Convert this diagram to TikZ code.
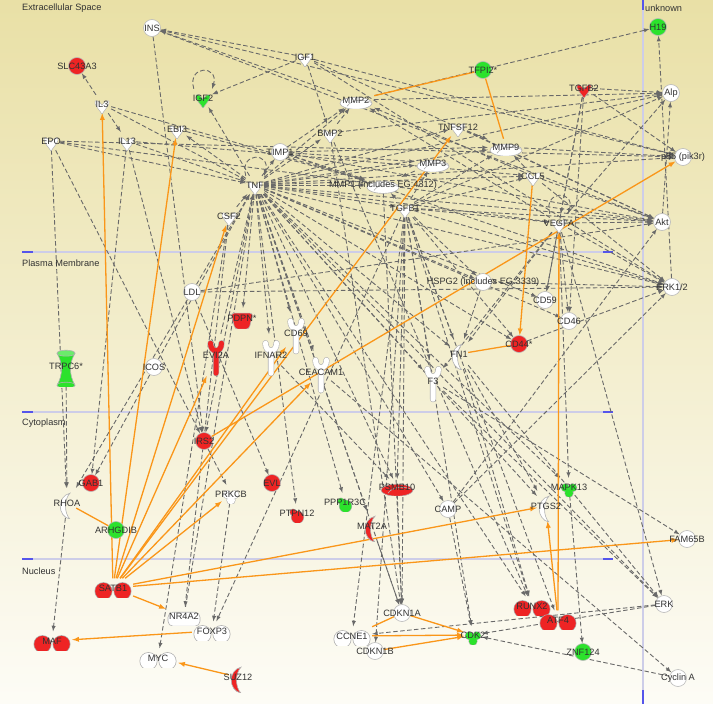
\documentclass[tikz,border=0pt]{standalone}
\usepackage{fontspec}
\setmainfont{Liberation Sans}
\definecolor{bgtop}{RGB}{233,224,166}
\definecolor{bgbot}{RGB}{253,252,246}
\definecolor{molred}{RGB}{238,36,36}
\definecolor{molgreen}{RGB}{44,226,44}
\definecolor{edgegray}{RGB}{105,105,105}
\definecolor{edgeorange}{RGB}{250,150,25}
\definecolor{cmpline}{RGB}{205,205,232}
\definecolor{cmptick}{RGB}{85,85,235}
\definecolor{txtgray}{RGB}{50,50,50}
\pgfdeclarelayer{back}
\pgfdeclarelayer{edges}
\pgfsetlayers{back,edges,main}
\newcommand{\mname}[1]{\makebox[0pt]{#1}}
\begin{document}
\begin{tikzpicture}[x=1pt,y=-1pt,>=latex,
  mol/.style={inner sep=0pt,text=txtgray,font=\fontsize{9.2}{10}\selectfont},
  circmol/.style={mol,circle,minimum size=17pt,fill=#1,draw=gray!55,line width=0.6pt},
  cytmol/.style={mol,minimum width=18pt,minimum height=18pt,
    path picture={\begin{scope}[shift={(path picture bounding box.center)}]
      \filldraw[fill=#1,draw=gray!60,line width=0.5pt] (0,7) .. controls (-3,2) and (-8,-2) .. (-7,-6)
        .. controls (-5,-7.5) and (-2,-5) .. (0,-2) .. controls (2,-5) and (5,-7.5) .. (7,-6)
        .. controls (8,-2) and (3,2) .. (0,7) -- cycle;
    \end{scope}}},
  pepmol/.style={mol,minimum width=36pt,minimum height=16pt,
    path picture={\begin{scope}[shift={(path picture bounding box.center)}]
      \filldraw[fill=#1,draw=gray!60,line width=0.6pt] (0,0) ellipse [x radius=16,y radius=6];
      \draw[gray!60,line width=0.6pt] (-9,3) .. controls (-4,-4) and (6,-4) .. (15,-1);
    \end{scope}}},
  trmol/.style={mol,minimum width=40pt,minimum height=19pt,
    path picture={\begin{scope}[shift={(path picture bounding box.center)}]
      \fill[gray!65] (-9.5,0) circle (9) (9.5,0) circle (9);
      \fill[#1] (-9.5,0) circle (8.3) (9.5,0) circle (8.3);
    \end{scope}}},
  enzmol/.style={mol,minimum width=18pt,minimum height=30pt,
    path picture={\begin{scope}[shift={(path picture bounding box.center)}]
      \filldraw[fill=#1,draw=gray!60,line width=0.6pt] (3,-13) .. controls (-10,-10) and (-10,10) .. (3,13)
        .. controls (-3,7) and (-3,-7) .. (3,-13) -- cycle;
    \end{scope}}},
  recmol/.style={mol,minimum width=20pt,minimum height=42pt,
    path picture={\begin{scope}[shift={(path picture bounding box.center)}]
      \draw[gray!60,line width=6.2pt,line cap=round] (-5.5,-15) .. controls (-5.5,-5) and (5.5,-5) .. (5.5,-15) (0,-7.5) -- (0,15);
      \draw[#1,line width=5pt,line cap=round] (-5.5,-15) .. controls (-5.5,-5) and (5.5,-5) .. (5.5,-15) (0,-7.5) -- (0,15);
    \end{scope}}},
  kinmol/.style={mol,minimum width=18pt,minimum height=18pt,
    path picture={\begin{scope}[shift={(path picture bounding box.center)}]
      \fill[gray!60] (-3.8,-2.5) circle (4.4) (3.8,-2.5) circle (4.4) (0,3) circle (4.6);
      \fill[#1] (-3.8,-2.5) circle (3.8) (3.8,-2.5) circle (3.8) (0,3) circle (4);
    \end{scope}}},
  phomol/.style={mol,minimum width=18pt,minimum height=18pt,
    path picture={\begin{scope}[shift={(path picture bounding box.center)}]
      \fill[gray!60] (0.5,1) circle (6.6) (-4,-4) circle (3.6);
      \fill[#1] (0.5,1) circle (6) (-4,-4) circle (3);
    \end{scope}}},
  tpmol/.style={mol,minimum width=26pt,minimum height=20pt,
    path picture={\begin{scope}[shift={(path picture bounding box.center)}]
      \filldraw[fill=#1,draw=gray!60,line width=0.6pt,rounded corners=3pt] (-11,-8) -- (11,-8) -- (7,8) -- (-7,8) -- cycle;
    \end{scope}}},
  chanmol/.style={mol,minimum width=22pt,minimum height=40pt,
    path picture={\begin{scope}[shift={(path picture bounding box.center)}]
      \filldraw[fill=#1,draw=gray!60,line width=0.6pt] (-9,-16) .. controls (-3,-6) and (-3,6) .. (-9,16) -- (9,16)
        .. controls (3,6) and (3,-6) .. (9,-16) -- cycle;
      \filldraw[fill=#1!70!white,draw=gray!60,line width=0.6pt] (0,-16) ellipse [x radius=9,y radius=3];
      \filldraw[fill=#1,draw=gray!60,line width=0.6pt] (0,16) ellipse [x radius=9,y radius=3];
    \end{scope}}},
  nrmol/.style={mol,minimum width=36pt,minimum height=18pt,
    path picture={\begin{scope}[shift={(path picture bounding box.center)}]
      \filldraw[fill=#1,draw=gray!60,line width=0.6pt,rounded corners=5pt] (-16,-7) rectangle (16,7);
    \end{scope}}},
  cmplabel/.style={anchor=west,inner sep=0pt,text=txtgray,font=\fontsize{9.2}{10}\selectfont},
  glink/.style={edgegray,line width=0.9pt,dash pattern=on 4.5pt off 2.5pt,->},
  olink/.style={edgeorange,line width=1.3pt,->},
  oline/.style={edgeorange,line width=1.3pt}]
\useasboundingbox (0,0) rectangle (713,704);

% compartments
\begin{pgfonlayer}{back}
\shade[top color=bgtop,bottom color=bgbot] (0,0) rectangle (713,704);
\foreach \y in {252,412,559}{
  \draw[cmpline,line width=1.4pt] (22,\y) -- (613,\y);
  \draw[cmptick,line width=1.6pt] (22,\y) -- (33,\y) (603,\y) -- (613,\y);
}
\draw[cmpline,line width=1.2pt] (643,0) -- (643,704);
\draw[cmptick,line width=1.6pt] (643,0) -- (643,10) (643,690) -- (643,704);
\end{pgfonlayer}
\node[cmplabel] (extraLbl) at (22,8) {Extracellular Space};
\node[cmplabel] (pmLbl) at (22,263) {Plasma Membrane};
\node[cmplabel] (cytoLbl) at (22,423) {Cytoplasm};
\node[cmplabel] (nucLbl) at (22,571) {Nucleus};
\node[cmplabel] (unkLbl) at (645,8) {unknown};

% extracellular space
\node[circmol=white] (INS) at (152,28) {\mname{INS}};
\node[circmol=molred] (SLC43A3) at (77,66) {\mname{SLC43A3}};
\node[cytmol=white] (IGF1) at (305,57) {\mname{IGF1}};
\node[cytmol=molgreen] (IGF2) at (203,98) {\mname{IGF2}};
\node[cytmol=white] (IL3) at (102,104) {\mname{IL3}};
\node[cytmol=white] (EBI3) at (177,129) {\mname{EBI3}};
\node[cytmol=white] (EPO) at (51,141) {\mname{EPO}};
\node[cytmol=white] (IL13) at (127,141) {\mname{IL13}};
\node[cytmol=white] (BMP2) at (330,133) {\mname{BMP2}};
\node[circmol=white] (TIMP1) at (280,152) {\mname{TIMP1}};
\node[pepmol=white] (MMP2) at (356,100) {\mname{MMP2}};
\node[cytmol=white] (TNF) at (255,185) {\mname{TNF}};
\node[cytmol=white] (CSF2) at (229,216) {\mname{CSF2}};
\node[pepmol=white] (MMP1) at (383,185) {\mname{MMP1 (includes EG:4312)}};
\node[pepmol=white] (MMP3) at (433,163) {\mname{MMP3}};
\node[cytmol=white] (TNFSF12) at (458,127) {\mname{TNFSF12}};
\node[pepmol=white] (MMP9) at (506,147) {\mname{MMP9}};
\node[circmol=molgreen] (TFPI2) at (483,70) {\mname{TFPI2*}};
\node[cytmol=molred] (TGFB2) at (584,88) {\mname{TGFB2}};
\node[circmol=molgreen] (H19) at (658,27) {\mname{H19}};
\node[circmol=white] (Alp) at (671,93) {\mname{Alp}};
\node[circmol=white] (p85) at (683,157) {\mname{p85 (pik3r)}};
\node[cytmol=white] (CCL5) at (533,176) {\mname{CCL5}};
\node[cytmol=white] (TGFB1) at (405,208) {\mname{TGFB1}};
\node[cytmol=white] (VEGFA) at (559,223) {\mname{VEGFA}};
\node[circmol=white] (Akt) at (662,222) {\mname{Akt}};

% plasma membrane
\node[circmol=white] (LDL) at (192,292) {\mname{LDL}};
\node[circmol=white] (HSPG2) at (483,282) {\mname{HSPG2 (includes EG:3339)}};
\node[circmol=white] (ERK12) at (672,287) {\mname{ERK1/2}};
\node[circmol=white] (CD59) at (545,300) {\mname{CD59}};
\node[circmol=white] (CD46) at (569,321) {\mname{CD46}};
\node[circmol=molred] (CD44) at (519,344) {\mname{CD44*}};
\node[tpmol=molred] (PDPN) at (242,318) {\mname{PDPN*}};
\node[recmol=molred] (EVI2A) at (216,355) {\mname{EVI2A}};
\node[recmol=white] (CD69) at (296,333) {\mname{CD69}};
\node[recmol=white] (IFNAR2) at (271,355) {\mname{IFNAR2}};
\node[recmol=white] (CEACAM1) at (321,372) {\mname{CEACAM1}};
\node[chanmol=molgreen] (TRPC6) at (66,366) {\mname{TRPC6*}};
\node[circmol=white] (ICOS) at (154,367) {\mname{ICOS}};
\node[enzmol=white] (FN1) at (459,354) {\mname{FN1}};
\node[recmol=white] (F3) at (433,381) {\mname{F3}};

% cytoplasm
\node[circmol=molred] (IRS2) at (204,441) {\mname{IRS2}};
\node[circmol=molred] (GAB1) at (91,483) {\mname{GAB1}};
\node[enzmol=white] (RHOA) at (67,503) {\mname{RHOA}};
\node[circmol=molgreen] (ARHGDIB) at (116,530) {\mname{ARHGDIB}};
\node[kinmol=white] (PRKCB) at (231,494) {\mname{PRKCB}};
\node[circmol=molred] (EVL) at (272,483) {\mname{EVL}};
\node[phomol=molred] (PTPN12) at (297,513) {\mname{PTPN12}};
\node[phomol=molgreen] (PPP1R3C) at (345,502) {\mname{PPP1R3C}};
\node[pepmol=molred] (PSMB10) at (397,487) {\mname{PSMB10}};
\node[enzmol=molred] (MAT2A) at (372,526) {\mname{MAT2A}};
\node[circmol=white] (CAMP) at (448,509) {\mname{CAMP}};
\node[enzmol=white] (PTGS2) at (546,506) {\mname{PTGS2}};
\node[kinmol=molgreen] (MAPK13) at (569,487) {\mname{MAPK13}};
\node[circmol=white] (FAM65B) at (687,539) {\mname{FAM65B}};

% nucleus
\node[trmol=molred] (SATB1) at (113,588) {\mname{SATB1}};
\node[nrmol=white] (NR4A2) at (184,616) {\mname{NR4A2}};
\node[trmol=white] (FOXP3) at (212,631) {\mname{FOXP3}};
\node[trmol=molred] (MAF) at (52,641) {\mname{MAF}};
\node[trmol=white] (MYC) at (158,658) {\mname{MYC}};
\node[enzmol=molred] (SUZ12) at (238,677) {\mname{SUZ12}};
\node[circmol=white] (CDKN1A) at (402,613) {\mname{CDKN1A}};
\node[trmol=white] (CCNE1) at (352,636) {\mname{CCNE1}};
\node[circmol=white] (CDKN1B) at (375,651) {\mname{CDKN1B}};
\node[kinmol=molgreen] (CDK2) at (473,635) {\mname{CDK2}};
\node[trmol=molred] (RUNX2) at (532,606) {\mname{RUNX2}};
\node[trmol=molred] (ATF4) at (558,620) {\mname{ATF4}};
\node[circmol=white] (ERK) at (664,604) {\mname{ERK}};
\node[circmol=molgreen] (ZNF124) at (583,652) {\mname{ZNF124}};
\node[circmol=white] (CyclinA) at (678,678) {\mname{Cyclin A}};

\begin{pgfonlayer}{edges}
% indirect relations
\foreach \src/\dst in {IGF1/INS, MMP2/INS, INS/IRS2, INS/Akt, INS/p85, IGF1/IGF2, TNF/IGF2,
  IGF1/BMP2, IGF1/Akt, IGF1/ERK12, IGF1/p85, IL3/SLC43A3, IL3/IL13, IL3/TNF, IL3/MMP1,
  EPO/p85, EPO/Akt, EPO/RHOA, EPO/IRS2, EPO/TNF, IL13/TNF, IL13/GAB1, IL13/IRS2, IL13/CCL5,
  TNF/EBI3, EBI3/MMP1,
  TNF/TIMP1, TNF/BMP2, TNF/MMP2, TNF/TNFSF12, TNF/MMP3, TNF/MMP1, TNF/MMP9, TNF/CCL5,
  TNF/TGFB1, TNF/VEGFA, TNF/Akt, TNF/ERK12, TNF/p85, TNF/Alp, TNF/HSPG2, TNF/CD59, TNF/CD46,
  TNF/CD44, TNF/FN1, TNF/F3, TNF/PDPN, TNF/IFNAR2, TNF/CD69, TNF/CEACAM1, TNF/IRS2,
  TNF/PTPN12, TNF/PPP1R3C, TNF/PSMB10, TNF/MAT2A, TNF/CAMP, TNF/PTGS2, TNF/RUNX2,
  TNF/CDKN1A, TNF/MAPK13, TNF/ERK, CSF2/TNF, LDL/TNF, EVI2A/TNF, NR4A2/TNF, ICOS/TNF,
  TIMP1/MMP9, TIMP1/MMP3, TIMP1/MMP1, TIMP1/MMP2, TIMP1/Akt, TIMP1/ERK12,
  BMP2/MMP2, BMP2/Alp, BMP2/RUNX2, BMP2/CDKN1A, MMP2/H19, CCL5/MMP2, MMP2/Alp,
  TNFSF12/MMP9, TNFSF12/Akt, CCL5/MMP9, MMP9/p85, TGFB1/MMP9, MMP3/MMP1, TGFB1/MMP3,
  TGFB1/MMP1, TGFB1/CCL5, CCL5/Akt, CCL5/ERK12,
  TGFB1/VEGFA, TGFB1/Akt, TGFB1/ERK12, TGFB1/Alp, TGFB1/FN1, TGFB1/F3, TGFB1/CD44,
  TGFB1/PSMB10, TGFB1/CDKN1A, TGFB1/CDKN1B, TGFB1/CCNE1, TGFB1/CDK2, TGFB1/RUNX2,
  TGFB1/FOXP3, TGFB1/HSPG2, TGFB1/ATF4, MMP1/CDKN1A, PSMB10/CDKN1A,
  TGFB2/Alp, TGFB2/VEGFA, TGFB2/CD46, TGFB2/CD59, TGFB2/p85,
  VEGFA/Akt, VEGFA/ERK12, VEGFA/CD59, VEGFA/CD46, VEGFA/Alp, VEGFA/MAPK13, VEGFA/ERK,
  VEGFA/FN1, VEGFA/F3, VEGFA/MMP2, Akt/Alp, ERK12/H19,
  LDL/Akt, LDL/ERK12, LDL/RHOA, LDL/EVL, HSPG2/FN1, HSPG2/ERK12,
  CD44/ERK12, CAMP/ERK12, CAMP/Akt, CAMP/CDK2,
  FN1/PTGS2, FN1/RUNX2, FN1/ERK, F3/ERK, F3/FAM65B,
  ICOS/GAB1, TRPC6/RHOA, RHOA/MAF, IRS2/PRKCB, CSF2/NR4A2, CSF2/MYC, PRKCB/FOXP3,
  IFNAR2/PSMB10, CEACAM1/CyclinA, ERK/CCNE1, ERK/CDK2, CyclinA/CDK2, MAPK13/ZNF124,
  MAT2A/CDKN1A}
  \draw[glink] (\src) -- (\dst);
\draw[glink] (IGF2.north west) .. controls +(-7,-24) and +(7,-24) .. (IGF2.north east);
\draw[glink] (TNF.north west) .. controls +(-7,-24) and +(7,-24) .. (TNF.north east);
\draw[glink] (VEGFA.north west) .. controls +(-7,-24) and +(7,-24) .. (VEGFA.north east);
% direct relations
\foreach \src/\dst in {SATB1/IL3, SATB1/EBI3, SATB1/CSF2, SATB1/EVI2A, SATB1/CD69,
  SATB1/CEACAM1, SATB1/TNFSF12, SATB1/PRKCB, SATB1/PTGS2, SATB1/FAM65B, SATB1/NR4A2,
  IRS2/p85, FOXP3/MAF, SUZ12/MYC, CCL5/CD44, ATF4/VEGFA, ATF4/PTGS2,
  CDKN1A/CDK2, CCNE1/CDK2, CDKN1B/CDK2}
  \draw[olink] (\src) -- (\dst);
\foreach \src/\dst in {TFPI2/MMP2, TFPI2/MMP9, FN1/CD44, RHOA/ARHGDIB, CDKN1A/CCNE1}
  \draw[oline] (\src) -- (\dst);
\end{pgfonlayer}
\end{tikzpicture}
\end{document}
